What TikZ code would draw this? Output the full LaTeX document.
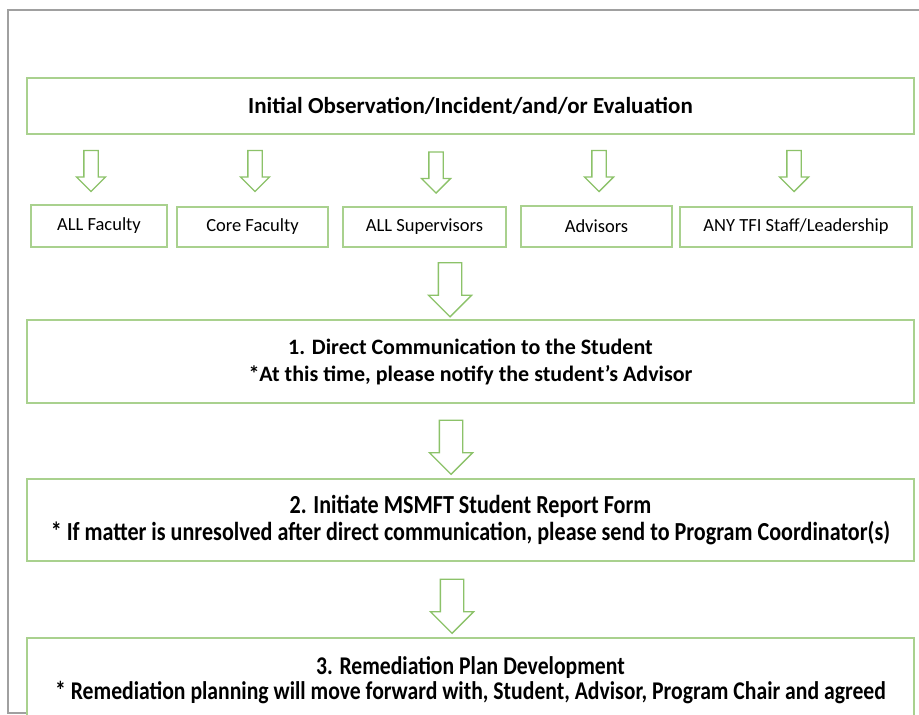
\documentclass[tikz,border=0pt]{standalone}
\usepackage{fontspec}
\setmainfont{Carlito}
\newfontfamily\narrowfont[FakeStretch=0.85]{Carlito}
\usetikzlibrary{shapes.arrows}
\definecolor{box_green}{RGB}{169, 209, 142}
\definecolor{arr_green}{RGB}{140, 194, 105}
\definecolor{frame_grey}{RGB}{160, 160, 160}
\tikzstyle{bx}=[rectangle,draw=box_green,fill=white,line width=1.5pt,
  inner sep=0pt,align=center]
\tikzstyle{sa}=[single arrow,draw=arr_green,fill=white,line width=1.3pt,
  rotate=-90,inner sep=6.5pt,single arrow head extend=7.5pt,minimum height=41pt]
\tikzstyle{ba}=[single arrow,draw=arr_green,fill=white,line width=1.3pt,
  rotate=-90,inner sep=11pt,single arrow head extend=10pt,minimum height=54pt]
\begin{document}
\begin{tikzpicture}[x=1pt,y=-1pt]
        \useasboundingbox (0,0) rectangle (919,715);
        \draw[frame_grey,line width=1.2pt] (919,10) -- (8,10) -- (8,713) -- (27,713);
        \node[style=bx,minimum width=887pt,minimum height=56pt,
          font=\bfseries\fontsize{23}{26}\selectfont] (0) at (470.5,106)
          {Initial Observation/Incident/and/or Evaluation};
        \node[style=sa] (a1) at (91,167.5) {};
        \node[style=sa] (a2) at (255,167.5) {};
        \node[style=sa] (a3) at (436,169) {};
        \node[style=sa] (a4) at (599,167.5) {};
        \node[style=sa] (a5) at (794,167.5) {};
        \node[style=bx,minimum width=136pt,minimum height=42pt,
          font=\fontsize{18.5}{20}\selectfont] (1) at (99,226) {ALL Faculty};
        \node[style=bx,minimum width=151pt,minimum height=40pt,
          font=\fontsize{18.5}{20}\selectfont] (2) at (252.5,227) {Core Faculty};
        \node[style=bx,minimum width=163pt,minimum height=40pt,
          font=\fontsize{18.5}{20}\selectfont] (3) at (424.5,227) {ALL Supervisors};
        \node[style=bx,minimum width=151pt,minimum height=41pt,
          font=\fontsize{18.5}{20}\selectfont] (4) at (596.5,226.5) {Advisors};
        \node[style=bx,minimum width=232pt,minimum height=40pt,
          font=\fontsize{18.5}{20}\selectfont] (5) at (796,227) {ANY TFI Staff/Leadership};
        \node[style=ba] (a6) at (450,284) {};
        \node[style=bx,minimum width=887pt,minimum height=83pt,
          font=\bfseries\fontsize{22}{27}\selectfont] (6) at (470.5,361.5)
          {1. Direct Communication to the Student\\
           *At this time, please notify the student’s Advisor};
        \node[style=ba] (a7) at (451,441.5) {};
        \node[style=bx,minimum width=887pt,minimum height=82pt,
          font=\narrowfont\bfseries\fontsize{26}{27}\selectfont] (7) at (470.5,520)
          {2. Initiate MSMFT Student Report Form\\
           * If matter is unresolved after direct communication, please send to Program Coordinator(s)};
        \node[style=ba] (a8) at (452,600.5) {};
        \node[style=bx,minimum width=887pt,minimum height=84pt,
          font=\narrowfont\bfseries\fontsize{25.5}{25}\selectfont] (8) at (470.5,680)
          {3. Remediation Plan Development\\
           * Remediation planning will move forward with, Student, Advisor, Program Chair and agreed};
    \end{tikzpicture}
\end{document}
